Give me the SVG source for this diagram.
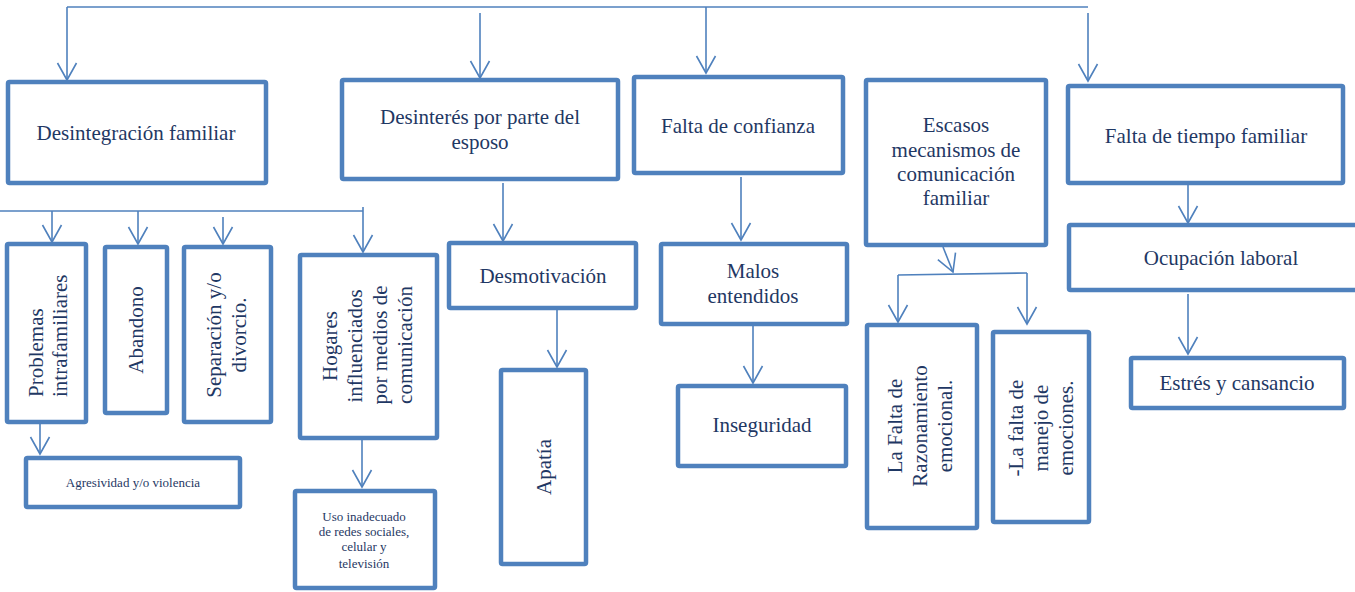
<svg xmlns="http://www.w3.org/2000/svg" width="1355" height="592" viewBox="0 0 1355 592">
<style>
.box{fill:#ffffff;stroke:#4f81bd;stroke-width:4.5}
.t{font-family:"Liberation Serif","Times New Roman",serif;font-size:21px;fill:#1f3864;text-anchor:middle}
.s{font-family:"Liberation Serif","Times New Roman",serif;font-size:13px;fill:#1f3864;text-anchor:middle}
.st{text-anchor:start}
.c{fill:none;stroke:#4f81bd;stroke-width:1.6}
</style>
<defs>
<marker id="arr" markerUnits="userSpaceOnUse" markerWidth="22" markerHeight="24" viewBox="-19 -12 22 24" refX="0" refY="0" orient="auto">
<path d="M-17,-9.5 L0,0 L-17,9.5" fill="none" stroke="#4f81bd" stroke-width="1.6"/>
</marker>
</defs>
<g id="connectors">
<line class="c" x1="67" y1="7" x2="1088" y2="7"/>
<line class="c" x1="67" y1="7" x2="67" y2="80" marker-end="url(#arr)"/>
<line class="c" x1="480" y1="13" x2="480" y2="78" marker-end="url(#arr)"/>
<line class="c" x1="706" y1="7" x2="706" y2="73" marker-end="url(#arr)"/>
<line class="c" x1="1088" y1="13" x2="1088" y2="81" marker-end="url(#arr)"/>
<line class="c" x1="0" y1="211" x2="363" y2="211"/>
<line class="c" x1="363" y1="207" x2="363" y2="252" marker-end="url(#arr)"/>
<line class="c" x1="52" y1="211" x2="52" y2="242" marker-end="url(#arr)"/>
<line class="c" x1="138" y1="211" x2="138" y2="244" marker-end="url(#arr)"/>
<line class="c" x1="223" y1="217" x2="223" y2="244" marker-end="url(#arr)"/>
<line class="c" x1="40" y1="422" x2="40" y2="454" marker-end="url(#arr)"/>
<line class="c" x1="362" y1="438" x2="362" y2="487" marker-end="url(#arr)"/>
<line class="c" x1="503" y1="183" x2="503" y2="241" marker-end="url(#arr)"/>
<line class="c" x1="557" y1="308" x2="557" y2="367" marker-end="url(#arr)"/>
<line class="c" x1="741" y1="177" x2="741" y2="240" marker-end="url(#arr)"/>
<line class="c" x1="753" y1="324" x2="753" y2="383" marker-end="url(#arr)"/>
<line class="c" x1="943" y1="247" x2="953" y2="272" marker-end="url(#arr)"/>
<line class="c" x1="898" y1="275" x2="1027" y2="273"/>
<line class="c" x1="898" y1="275" x2="898" y2="322" marker-end="url(#arr)"/>
<line class="c" x1="1027" y1="273" x2="1027" y2="324" marker-end="url(#arr)"/>
<line class="c" x1="1188" y1="180" x2="1188" y2="223" marker-end="url(#arr)"/>
<line class="c" x1="1188" y1="294" x2="1188" y2="354" marker-end="url(#arr)"/>
</g>
<g id="n-desintegracion">
<rect class="box" x="8" y="82" width="258" height="101" rx="1.5"/>
<text class="t" x="136" y="140">Desintegración familiar</text>
</g>
<g id="n-desinteres">
<rect class="box" x="342" y="80" width="276" height="99" rx="1.5"/>
<text class="t" x="480" y="124">Desinterés por parte del</text>
<text class="t" x="480" y="149">esposo</text>
</g>
<g id="n-confianza">
<rect class="box" x="634" y="77" width="209" height="96" rx="1.5"/>
<text class="t" x="738" y="133">Falta de confianza</text>
</g>
<g id="n-escasos">
<rect class="box" x="866" y="80" width="180" height="165" rx="1.5"/>
<text class="t" x="956" y="132">Escasos</text>
<text class="t" x="956" y="157">mecanismos de</text>
<text class="t" x="956" y="181">comunicación</text>
<text class="t" x="956" y="205">familiar</text>
</g>
<g id="n-tiempo">
<rect class="box" x="1068" y="86" width="275" height="97" rx="1.5"/>
<text class="t" x="1206" y="143">Falta de tiempo familiar</text>
</g>
<g id="n-problemas">
<rect class="box" x="7" y="244" width="79" height="178" rx="1.5"/>
<text class="t st" transform="translate(43,397) rotate(-90)">Problemas</text>
<text class="t st" transform="translate(67,397) rotate(-90)">intrafamiliares</text>
</g>
<g id="n-abandono">
<rect class="box" x="105" y="247" width="62" height="166" rx="1.5"/>
<text class="t" transform="translate(143,330) rotate(-90)">Abandono</text>
</g>
<g id="n-separacion">
<rect class="box" x="184" y="247" width="87" height="175" rx="1.5"/>
<text class="t" transform="translate(221,335) rotate(-90)">Separación y/o</text>
<text class="t" transform="translate(246,335) rotate(-90)">divorcio.</text>
</g>
<g id="n-hogares">
<rect class="box" x="300" y="255" width="137" height="183" rx="1.5"/>
<text class="t" transform="translate(337,346) rotate(-90)">Hogares</text>
<text class="t" transform="translate(362,346) rotate(-90)">influenciados</text>
<text class="t" transform="translate(387,345) rotate(-90)">por medios de</text>
<text class="t" transform="translate(412,345) rotate(-90)">comunicación</text>
</g>
<g id="n-agresividad">
<rect class="box" x="26" y="458" width="214" height="49" rx="1.5"/>
<text class="s" x="133" y="487">Agresividad y/o violencia</text>
</g>
<g id="n-uso">
<rect class="box" x="295" y="491" width="140" height="97" rx="1.5"/>
<text class="s" x="364" y="521">Uso inadecuado</text>
<text class="s" x="364" y="536">de redes sociales,</text>
<text class="s" x="364" y="551">celular y</text>
<text class="s" x="364" y="568">televisión</text>
</g>
<g id="n-desmotivacion">
<rect class="box" x="449" y="243" width="187" height="65" rx="1.5"/>
<text class="t" x="543" y="283">Desmotivación</text>
</g>
<g id="n-apatia">
<rect class="box" x="501" y="370" width="85" height="194" rx="1.5"/>
<text class="t" transform="translate(551,467) rotate(-90)">Apatía</text>
</g>
<g id="n-malos">
<rect class="box" x="661" y="244" width="186" height="80" rx="1.5"/>
<text class="t" x="753" y="278">Malos</text>
<text class="t" x="753" y="303">entendidos</text>
</g>
<g id="n-inseguridad">
<rect class="box" x="678" y="386" width="168" height="80" rx="1.5"/>
<text class="t" x="762" y="432">Inseguridad</text>
</g>
<g id="n-lafalta">
<rect class="box" x="867" y="325" width="110" height="203" rx="1.5"/>
<text class="t" transform="translate(902,426) rotate(-90)">La Falta de</text>
<text class="t" transform="translate(927,426) rotate(-90)">Razonamiento</text>
<text class="t" transform="translate(952,426) rotate(-90)">emocional.</text>
</g>
<g id="n-manejo">
<rect class="box" x="993" y="332" width="96" height="190" rx="1.5"/>
<text class="t" transform="translate(1023,428) rotate(-90)">-La falta de</text>
<text class="t" transform="translate(1048,428) rotate(-90)">manejo de</text>
<text class="t" transform="translate(1073,428) rotate(-90)">emociones.</text>
</g>
<g id="n-ocupacion">
<rect class="box" x="1069" y="225" width="300" height="65" rx="1.5"/>
<text class="t" x="1221" y="265">Ocupación laboral</text>
</g>
<g id="n-estres">
<rect class="box" x="1131" y="358" width="213" height="50" rx="1.5"/>
<text class="t" x="1237" y="390">Estrés y cansancio</text>
</g>
</svg>
